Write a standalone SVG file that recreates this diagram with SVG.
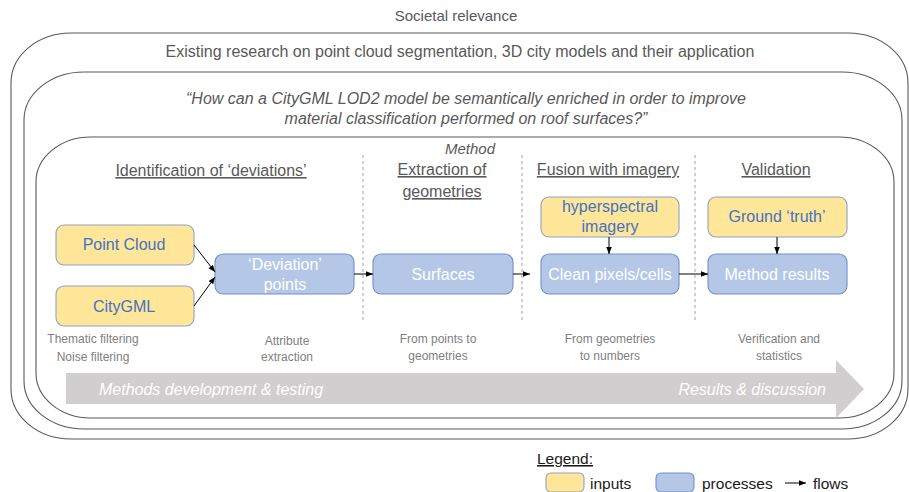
<svg xmlns="http://www.w3.org/2000/svg" width="909" height="492" viewBox="0 0 909 492">
<defs>
<style>
text{font-family:"Liberation Sans",Arial,sans-serif}
.frame{fill:none;stroke:#595959;stroke-width:1.1}
.t{fill:#595959;font-size:15px;text-anchor:middle}
.q{fill:#595959;font-size:16px;font-style:italic;text-anchor:middle}
.h{fill:#595959;font-size:16px;text-anchor:middle;text-decoration:underline}
.cap{fill:#808080;font-size:12px;text-anchor:middle}
.inp{fill:#FFE699;stroke:#8EA2C6;stroke-width:1.1}
.proc{fill:#B4C7E7;stroke:#7290C6;stroke-width:1.1}
.it{fill:#4472C4;font-size:16px;text-anchor:middle}
.pt{fill:#FFFFFF;font-size:16px;text-anchor:middle}
.dash{stroke:#8c8c8c;stroke-width:0.8;stroke-dasharray:3,3}
.con{stroke:#000;stroke-width:1;fill:none;marker-end:url(#ah)}
.big{fill:#FFFFFF;font-size:16px;font-style:italic}
.leg{fill:#1a1a1a;font-size:15.5px}
</style>
<marker id="ah" viewBox="0 0 10 10" refX="10" refY="5" markerWidth="7" markerHeight="7" markerUnits="userSpaceOnUse" orient="auto">
<path d="M0,1 L10,5 L0,9 z" fill="#000"/>
</marker>
</defs>
<rect width="909" height="492" fill="#FFFFFF"/>

<g id="frames">
<rect class="frame" x="11" y="33" width="897" height="406" rx="60" ry="50"/>
<rect class="frame" x="24" y="72" width="878" height="357" rx="60" ry="48"/>
<rect class="frame" x="36" y="137" width="858" height="281" rx="55" ry="45"/>
</g>

<g id="titles">
<text class="t" x="456" y="21">Societal relevance</text>
<text class="t" x="460" y="57" style="font-size:16px">Existing research on point cloud segmentation, 3D city models and their application</text>
<text class="q" x="466" y="104">“How can a CityGML LOD2 model be semantically enriched in order to improve</text>
<text class="q" x="466" y="124">material classification performed on roof surfaces?”</text>
<text class="q" x="470" y="154" style="font-size:15px">Method</text>
</g>

<g id="headers">
<text class="h" x="211" y="176">Identification of ‘deviations’</text>
<text class="h" x="442" y="175">Extraction of</text>
<text class="h" x="442" y="197">geometries</text>
<text class="h" x="608" y="175">Fusion with imagery</text>
<text class="h" x="776" y="175">Validation</text>
</g>

<g id="dividers">
<line class="dash" x1="363" y1="155" x2="363" y2="322"/>
<line class="dash" x1="522" y1="155" x2="522" y2="322"/>
<line class="dash" x1="695" y1="155" x2="695" y2="322"/>
</g>

<g id="point-cloud">
<rect class="inp" x="56" y="225" width="138" height="40" rx="8"/>
<text class="it" x="124" y="250">Point Cloud</text>
</g>
<g id="citygml">
<rect class="inp" x="56" y="286" width="138" height="40" rx="8"/>
<text class="it" x="124" y="312">CityGML</text>
</g>
<g id="deviation-points">
<rect class="proc" x="215" y="254" width="139" height="40" rx="8"/>
<text class="pt" x="285" y="270">‘Deviation’</text>
<text class="pt" x="285" y="290">points</text>
</g>
<g id="surfaces">
<rect class="proc" x="373" y="254" width="140" height="40" rx="8"/>
<text class="pt" x="443" y="280">Surfaces</text>
</g>
<g id="hyperspectral">
<rect class="inp" x="541" y="197" width="138" height="40" rx="8"/>
<text class="it" x="610" y="212">hyperspectral</text>
<text class="it" x="610" y="232">imagery</text>
</g>
<g id="clean-pixels">
<rect class="proc" x="541" y="254" width="138" height="40" rx="8"/>
<text class="pt" x="610" y="280">Clean pixels/cells</text>
</g>
<g id="ground-truth">
<rect class="inp" x="708" y="197" width="139" height="40" rx="8"/>
<text class="it" x="777" y="222">Ground ‘truth’</text>
</g>
<g id="method-results">
<rect class="proc" x="708" y="254" width="139" height="40" rx="8"/>
<text class="pt" x="777" y="280">Method results</text>
</g>

<g id="connectors">
<line class="con" x1="194" y1="245" x2="215" y2="272"/>
<line class="con" x1="194" y1="306" x2="215" y2="277"/>
<line class="con" x1="354" y1="274" x2="373" y2="274"/>
<line class="con" x1="513" y1="274" x2="530" y2="274"/>
<line class="con" x1="679" y1="274" x2="708" y2="274"/>
<line class="con" x1="609" y1="237" x2="609" y2="254"/>
<line class="con" x1="777" y1="237" x2="777" y2="254"/>
</g>

<g id="captions">
<text class="cap" x="93" y="343">Thematic filtering</text>
<text class="cap" x="93" y="361">Noise filtering</text>
<text class="cap" x="287" y="345">Attribute</text>
<text class="cap" x="287" y="361">extraction</text>
<text class="cap" x="438" y="343">From points to</text>
<text class="cap" x="438" y="360">geometries</text>
<text class="cap" x="610" y="343">From geometries</text>
<text class="cap" x="610" y="360">to numbers</text>
<text class="cap" x="779" y="343">Verification and</text>
<text class="cap" x="779" y="360">statistics</text>
</g>

<g id="progress-arrow">
<path d="M66,373 L836,373 L836,360 L864,389 L836,418 L836,404 L66,404 z" fill="#D0CECE"/>
<text class="big" x="99" y="395">Methods development &amp; testing</text>
<text class="big" x="826" y="395" text-anchor="end">Results &amp; discussion</text>
</g>

<g id="legend">
<text class="leg" x="537" y="464" text-decoration="underline">Legend:</text>
<rect class="inp" x="546" y="473" width="38" height="19" rx="5"/>
<text class="leg" x="590" y="489">inputs</text>
<rect class="proc" x="656" y="473" width="38" height="19" rx="5"/>
<text class="leg" x="702" y="489">processes</text>
<line class="con" x1="785" y1="483" x2="806" y2="483"/>
<text class="leg" x="813" y="489">flows</text>
</g>
</svg>
